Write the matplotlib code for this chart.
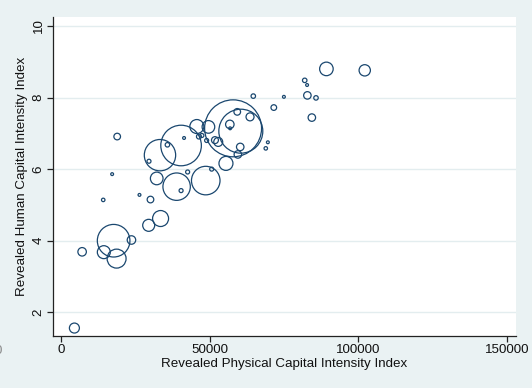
import matplotlib.pyplot as plt

# physical capital intensity (x), human capital intensity (y), weight (bubble area)
phys_cap = [4500, 7100, 14400, 17700, 18700, 23700, 29500, 33500, 14200, 26400,
            30100, 17200, 18900, 29600, 33300, 32200, 38900, 40400, 42600, 48700,
            50700, 35800, 40400, 41400, 45700, 49600, 46400, 47400, 49000, 51800,
            52900, 55500, 57900, 60500, 59300, 63600, 56800, 56900, 60300, 59500,
            64700, 68900, 69600, 71600, 75000, 82000, 82800, 82900, 85800, 84400,
            89300, 102200]
human_cap = [1.56, 3.69, 3.68, 4.00, 3.50, 4.02, 4.43, 4.62, 5.14, 5.28,
             5.15, 5.86, 6.91, 6.22, 6.39, 5.74, 5.51, 5.40, 5.92, 5.68,
             6.00, 6.68, 6.66, 6.87, 7.19, 7.18, 6.91, 6.94, 6.80, 6.81,
             6.76, 6.16, 7.14, 7.06, 7.60, 7.46, 7.25, 7.14, 6.62, 6.41,
             8.04, 6.58, 6.75, 7.72, 8.02, 8.48, 8.35, 8.06, 7.99, 7.44,
             8.80, 8.76]
weight = [25, 18, 42, 266, 90, 18, 36, 64, 3, 2,
          11, 2, 11, 4, 246, 40, 188, 4, 4, 204,
          4, 5, 412, 2, 49, 40, 6, 4, 4, 12,
          20, 49, 812, 484, 11, 16, 18, 2, 14, 14,
          5, 3, 2, 8, 2, 5, 2, 14, 5, 14,
          46, 32]

bg = '#EAF2F3'
navy = '#1A476F'

plt.rcParams['font.family'] = ['Liberation Sans', 'DejaVu Sans']

fig = plt.figure(figsize=(5.32, 3.88), dpi=100, facecolor=bg)
ax = fig.add_axes([53 / 532, 52 / 388, 463 / 532, 319 / 388])
ax.set_facecolor('white')

ax.scatter(phys_cap, human_cap, s=[2.07 * w for w in weight],
           facecolors='none', edgecolors=navy, linewidths=0.9, zorder=3)

ax.set_xlim(-2700, 153100)
ax.set_ylim(1.338, 10.25)
ax.set_xticks([0, 50000, 100000, 150000])
ax.set_yticks([2, 4, 6, 8, 10])
ax.grid(axis='y', color='#E3EDEF', linewidth=1.0, zorder=0)
ax.set_axisbelow(True)

for side in ['top', 'right']:
    ax.spines[side].set_visible(False)
for side in ['left', 'bottom']:
    ax.spines[side].set_color('#222222')
    ax.spines[side].set_linewidth(0.9)

ax.tick_params(axis='both', length=4, width=0.9, color='#222222',
               labelsize=9.6, labelcolor='#111111', pad=2)
for lab in ax.get_yticklabels():
    lab.set_rotation(90)
    lab.set_va('center')

ax.set_xlabel('Revealed Physical Capital Intensity Index', fontsize=9.6,
              color='#111111', labelpad=1)
ax.set_ylabel('Revealed Human Capital Intensity Index', fontsize=9.6,
              color='#111111', labelpad=3)

# clipped label from the neighbouring panel at the left edge
fig.text(2 / 532, 36.5 / 388, '0', ha='right', va='center', fontsize=9.6,
         color='#8A8A8A')

fig.savefig('out.png', dpi=100, facecolor=bg)
